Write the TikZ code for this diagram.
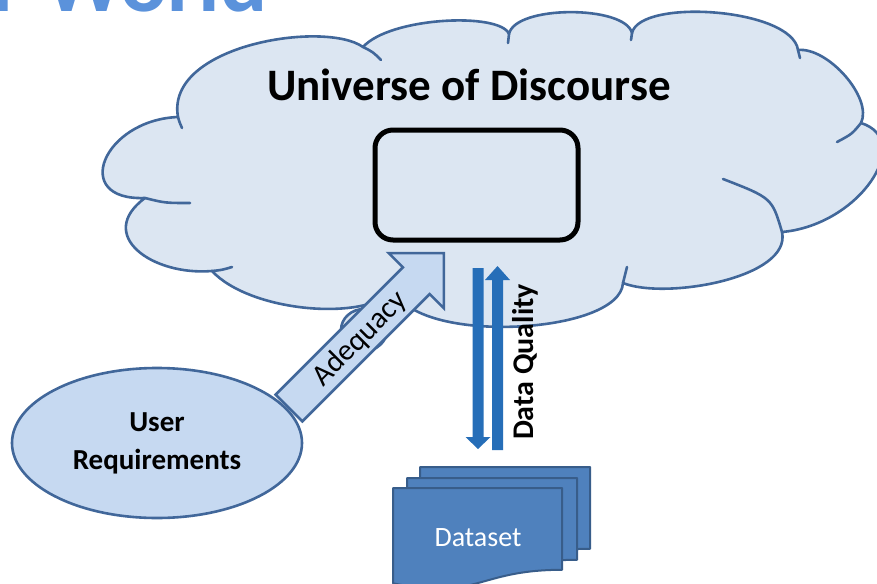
\documentclass[tikz,border=0pt]{standalone}
\usepackage{fontspec}
\setmainfont{Carlito}
\usetikzlibrary{shapes.geometric}
\definecolor{cloudfill}{HTML}{DCE6F2}
\definecolor{edge}{HTML}{41679A}
\definecolor{lightfill}{HTML}{C6D9F1}
\definecolor{dqblue}{HTML}{266EB8}
\definecolor{docfill}{HTML}{4F81BD}
\definecolor{docedge}{HTML}{385D8A}
\definecolor{titleblue}{HTML}{5B92DB}
\tikzset{
  cloudshape/.style={fill=cloudfill, draw=edge, line width=2.6},
  tailline/.style={draw=edge, line width=2.6, line cap=round},
  blockarrow/.style={fill=lightfill, draw=edge, line width=2.6, line join=miter},
  docpage/.style={fill=docfill, draw=docedge, line width=2},
}
\begin{document}
\begin{tikzpicture}[x=1pt,y=-1pt,line join=round]
\useasboundingbox (0,0) rectangle (877,583);
\clip (0,0) rectangle (877,583);
\fill[white] (0,0) rectangle (877,583);

% cropped title
\node[anchor=base east, inner sep=0, text=titleblue, font=\fontsize{88}{92}\selectfont\bfseries] (title) at (268,12) {Our World};

% cloud
\path[cloudshape] (178,117)
 .. controls (103,120) and (70,201) .. (145,198)
 .. controls (95,235) and (152,276) .. (212,271)
 .. controls (250,312) and (365,322) .. (395,290)
 .. controls (415,345) and (620,335) .. (623,283)
 .. controls (665,300) and (792,278) .. (782,232)
 .. controls (860,225) and (915,140) .. (861,123)
 .. controls (873,98) and (828,47) .. (798,50)
 .. controls (792,8) and (640,-2) .. (632,33)
 .. controls (625,5) and (515,5) .. (509,34)
 .. controls (500,12) and (390,17) .. (363,47)
 .. controls (325,20) and (165,45) .. (178,117)
 -- cycle;
% cloud inner tails
\draw[tailline] (178,117) .. controls (179,121) .. (182,128);
\draw[tailline] (145,198) .. controls (165,203) .. (190,203);
\draw[tailline] (212,271) .. controls (222,270) .. (232,267);
\draw[tailline] (623,283) .. controls (625,275) .. (627,267);
\draw[tailline] (782,232) .. controls (772,198) .. (723,179);
\draw[tailline] (861,123) .. controls (852,134) .. (837,142);
\draw[tailline] (798,50) .. controls (799,54) .. (800,58);
\draw[tailline] (632,33) .. controls (632,36) .. (631,40);
\draw[tailline] (509,34) .. controls (509,38) .. (508,43);
\draw[tailline] (363,47) .. controls (373,52) .. (381,60);

% small thought bubble
\draw[cloudshape] (364,330) ellipse [x radius=23, y radius=21];

% title of cloud
\node[font=\fontsize{45}{50}\selectfont\bfseries, inner sep=0] (uod) at (469,85) {Universe of Discourse};

% inner rounded box
\node[draw=black, fill=cloudfill, rounded corners=18, line width=5, minimum width=203, minimum height=110, inner sep=0] (box) at (476.5,185) {};

% user requirements
\node[ellipse, fill=lightfill, draw=edge, line width=2.6, minimum width=290, minimum height=150, inner sep=0, align=center,
      font=\fontsize{29}{38}\selectfont\bfseries] (ur) at (157,443) {User\\Requirements};

% adequacy block arrow
\coordinate (at1) at (275.6,394.6);
\coordinate (at2) at (302.4,421.4);
\coordinate (as2) at (429.7,294.1);
\coordinate (ab2) at (443.9,308.3);
\coordinate (atip) at (443.9,253.1);
\coordinate (ab1) at (388.7,253.1);
\coordinate (as1) at (402.9,267.3);
\draw[blockarrow] (at1) -- (at2) -- (as2) -- (ab2) -- (atip) -- (ab1) -- (as1) -- cycle;
\node[rotate=45, font=\fontsize{30}{34}\selectfont, inner sep=0] (adq) at (360,339) {Adequacy};

% data quality arrows
\coordinate (d1top) at (478,268);
\coordinate (d1tip) at (478,449);
\fill[dqblue] (472.5,268) -- (483.5,268) -- (483.5,437) -- (490.5,437) -- (d1tip) -- (465.5,437) -- (472.5,437) -- cycle;
\coordinate (d2bot) at (497.5,450);
\coordinate (d2tip) at (497.5,266);
\fill[dqblue] (492,450) -- (503,450) -- (503,280) -- (510,280) -- (d2tip) -- (485,280) -- (492,280) -- cycle;
\node[rotate=90, font=\fontsize{30}{34}\selectfont\bfseries, inner sep=0] (dq) at (525,362) {Data Quality};

% dataset stack
\path[docpage] (420,467) -- (590,467) -- (590,548.8) .. controls (505,548.8) and (505,579.9) .. (420,562.3) -- cycle;
\path[docpage] (407,478) -- (577,478) -- (577,559.8) .. controls (492,559.8) and (492,590.9) .. (407,573.3) -- cycle;
\path[docpage] (393,488) -- (562,488) -- (562,569.8) .. controls (477.5,569.8) and (477.5,600.9) .. (393,583.3) -- cycle;
\node[text=white, font=\fontsize{28}{32}\selectfont, inner sep=0] (ds) at (478,538) {Dataset};
\end{tikzpicture}
\end{document}
